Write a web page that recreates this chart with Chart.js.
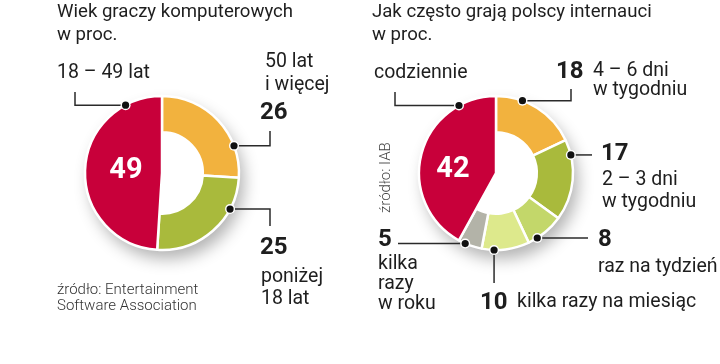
<!DOCTYPE html>
<html>
<head>
    <meta charset="UTF-8">
    <title>Gracze komputerowi</title>
    <script src="https://cdn.jsdelivr.net/npm/chart.js@4"></script>
    <style>
        body { margin: 0; background: #fff; }
        #wrap { width: 720px; height: 364px; position: relative; overflow: hidden; }
        canvas { position: absolute; top: 0; }
        #ageCanvas { left: 0; }
        #freqCanvas { left: 360px; }
    </style>
</head>
<body>
<div id="wrap">
    <canvas id="ageCanvas" width="360" height="364"></canvas>
    <canvas id="freqCanvas" width="360" height="364"></canvas>
</div>
<script>
    // data: wiek graczy (w proc.)
    const ageLabels = ['50 lat i więcej', 'poniżej 18 lat', '18 – 49 lat'];
    const ageValues = [26, 25, 49];
    const ageColors = ['#f2b23e', '#a9ba3c', '#c8003a'];

    // data: jak często grają (w proc.)
    const freqLabels = ['4 – 6 dni w tygodniu', '2 – 3 dni w tygodniu', 'raz na tydzień', 'kilka razy na miesiąc', 'kilka razy w roku', 'codziennie'];
    const freqValues = [18, 17, 8, 10, 5, 42];
    const freqColors = ['#f2b23e', '#a9ba3c', '#c3d76a', '#dde98c', '#b3b3a8', '#c8003a'];

    const FONT = 'Roboto, "DejaVu Sans", sans-serif';
    const INK = '#1e1e1e';
    const LBL = '19.5px';

    // layout of the callouts: which slice, where on its arc (0..1), leader path, texts
    const ageNotes = {
        pieSlice: 2,
        texts: [
            {t: 'Wiek graczy komputerowych', x: 57, y: 17, f: '18.6px'},
            {t: 'w proc.', x: 57, y: 40, f: '18.6px'},
            {t: '18 – 49 lat', x: 57, y: 78, f: LBL},
            {t: '50 lat', x: 265, y: 67, f: LBL},
            {t: 'i więcej', x: 265, y: 90, f: LBL},
            {t: String(ageValues[0]), x: 260, y: 119, f: 'bold 24px'},
            {t: String(ageValues[1]), x: 260, y: 254, f: 'bold 24px'},
            {t: 'poniżej', x: 261, y: 282, f: LBL},
            {t: '18 lat', x: 261, y: 304, f: LBL},
            {t: String(ageValues[2]), x: 126, y: 178, f: 'bold 29px', c: '#fff', a: 'center'},
            {t: 'źródło: Entertainment', x: 57, y: 294, f: '300 15px', c: '#333'},
            {t: 'Software Association', x: 57, y: 310, f: '300 15px', c: '#333'}
        ],
        leaders: [
            {i: 2, at: 0.84, path: [{x: 75}, {y: 92}]},
            {i: 0, at: 0.74, path: [{x: 270}, {y: 131}]},
            {i: 1, at: 0.27, path: [{x: 270}, {y: 226}]}
        ]
    };

    const freqNotes = {
        pieSlice: 5,
        texts: [
            {t: 'Jak często grają polscy internauci', x: 12, y: 17, f: '18.6px'},
            {t: 'w proc.', x: 12, y: 40, f: '18.6px'},
            {t: 'codziennie', x: 14, y: 78, f: LBL},
            {t: String(freqValues[0]), x: 196, y: 78, f: 'bold 24px'},
            {t: '4 – 6 dni', x: 233, y: 76, f: LBL},
            {t: 'w tygodniu', x: 233, y: 95, f: LBL},
            {t: String(freqValues[1]), x: 241, y: 160, f: 'bold 24px'},
            {t: '2 – 3 dni', x: 242, y: 185, f: LBL},
            {t: 'w tygodniu', x: 242, y: 207, f: LBL},
            {t: String(freqValues[2]), x: 238, y: 246, f: 'bold 24px'},
            {t: 'raz na tydzień', x: 238, y: 272, f: LBL},
            {t: String(freqValues[3]), x: 120, y: 309, f: 'bold 24px'},
            {t: 'kilka razy na miesiąc', x: 157, y: 307, f: LBL},
            {t: String(freqValues[4]), x: 18, y: 246, f: 'bold 24px'},
            {t: 'kilka', x: 18, y: 269, f: LBL},
            {t: 'razy', x: 18, y: 289, f: LBL},
            {t: 'w roku', x: 18, y: 309, f: LBL},
            {t: String(freqValues[5]), x: 93, y: 177, f: 'bold 29px', c: '#fff', a: 'center'},
            {t: 'źródło: IAB', x: 30, y: 213, f: '300 15px', c: '#444', rot: true}
        ],
        leaders: [
            {i: 5, at: 0.81, path: [{x: 35}, {y: 92}]},
            {i: 0, at: 0.31, path: [{x: 211}, {y: 89}]},
            {i: 1, at: 0.19, path: [{x: 232}]},
            {i: 2, at: 0.75, path: [{x: 228}]},
            {i: 3, at: 0.74, path: [{y: 283}]},
            {i: 4, at: 0.71, path: [{x: 38}]}
        ]
    };

    const donutNotes = {
        id: 'donutNotes',
        afterDatasetsUpdate(chart, args, opts) {
            // the big slice is a full wedge, no hole
            const arc = chart.getDatasetMeta(0).data[opts.pieSlice];
            if (arc) arc.innerRadius = 0;
        },
        beforeDatasetsDraw(chart) {
            const arc = chart.getDatasetMeta(0).data[0];
            const ctx = chart.ctx;
            ctx.save();
            ctx.shadowColor = 'rgba(0,0,0,0.30)';
            ctx.shadowBlur = 16;
            ctx.shadowOffsetX = 5;
            ctx.shadowOffsetY = 9;
            ctx.fillStyle = '#fff';
            ctx.beginPath();
            ctx.arc(arc.x, arc.y, arc.outerRadius, 0, Math.PI * 2);
            ctx.fill();
            ctx.restore();
        },
        afterDraw(chart, args, opts) {
            const ctx = chart.ctx;
            const arcs = chart.getDatasetMeta(0).data;
            ctx.save();
            // leaders
            opts.leaders.forEach(l => {
                const a = arcs[l.i];
                const ang = a.startAngle + (a.endAngle - a.startAngle) * l.at;
                let px = a.x + Math.cos(ang) * a.outerRadius;
                let py = a.y + Math.sin(ang) * a.outerRadius;
                const dot = [px, py];
                ctx.strokeStyle = '#2a2a2a';
                ctx.lineWidth = 1.5;
                ctx.beginPath();
                ctx.moveTo(px, py);
                l.path.forEach(p => {
                    if (p.x !== undefined) px = p.x;
                    if (p.y !== undefined) py = p.y;
                    ctx.lineTo(px, py);
                });
                ctx.stroke();
                ctx.beginPath();
                ctx.arc(dot[0], dot[1], 5, 0, Math.PI * 2);
                ctx.fillStyle = '#fff';
                ctx.fill();
                ctx.beginPath();
                ctx.arc(dot[0], dot[1], 3.6, 0, Math.PI * 2);
                ctx.fillStyle = '#111';
                ctx.fill();
            });
            // texts
            opts.texts.forEach(tx => {
                ctx.font = tx.f + ' ' + FONT;
                ctx.fillStyle = tx.c || INK;
                ctx.textAlign = tx.a || 'left';
                ctx.textBaseline = 'alphabetic';
                if (tx.rot) {
                    ctx.save();
                    ctx.translate(tx.x, tx.y);
                    ctx.rotate(-Math.PI / 2);
                    ctx.fillText(tx.t, 0, 0);
                    ctx.restore();
                } else {
                    ctx.fillText(tx.t, tx.x, tx.y);
                }
            });
            ctx.restore();
        }
    };

    function makeDonut(id, labels, values, colors, notes, padding) {
        return new Chart(document.getElementById(id), {
            type: 'doughnut',
            data: {
                labels: labels,
                datasets: [{
                    data: values,
                    backgroundColor: colors,
                    borderColor: '#fff',
                    borderWidth: 2.5
                }]
            },
            options: {
                responsive: false,
                animation: false,
                devicePixelRatio: 1,
                radius: 77,
                cutout: '53%',
                layout: {padding: padding},
                plugins: {
                    legend: {display: false},
                    tooltip: {enabled: false},
                    donutNotes: notes
                }
            },
            plugins: [donutNotes]
        });
    }

    makeDonut('ageCanvas', ageLabels, ageValues, ageColors, ageNotes,
        {left: 85, right: 121, top: 96, bottom: 114});
    makeDonut('freqCanvas', freqLabels, freqValues, freqColors, freqNotes,
        {left: 59, right: 147, top: 96, bottom: 114});
</script>
</body>
</html>
